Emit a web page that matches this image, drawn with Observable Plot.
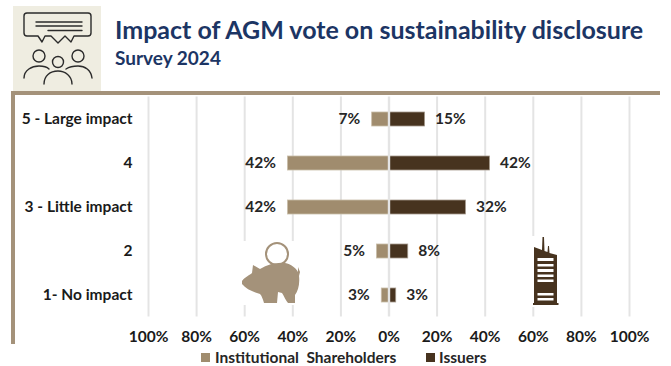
<!DOCTYPE html>
<html>
<head>
<meta charset="utf-8">
<script src="https://cdn.jsdelivr.net/npm/d3@7"></script>
<script src="https://cdn.jsdelivr.net/npm/@observablehq/plot@0.6"></script>
<style>
  html, body { margin: 0; padding: 0; background: #fff; }
  body { width: 671px; height: 366px; overflow: hidden; position: relative; font-family: Lato, "Open Sans", sans-serif; }
  #header { height: 91px; position: relative; }
  #title { position: absolute; left: 115px; top: 13.5px; font-size: 25px; font-weight: 700; color: #1c3564; white-space: nowrap; }
  #subtitle { position: absolute; left: 115px; top: 46px; font-size: 19px; font-weight: 700; color: #1c3564; white-space: nowrap; }
  #frame-top { position: absolute; left: 11px; top: 91px; width: 649px; height: 4px; background: #a4927a; }
  #frame-left { position: absolute; left: 11px; top: 91px; width: 4px; height: 253px; background: #a4927a; }
  #chart svg { display: block; }
  #legend { position: absolute; left: 0; top: 349px; width: 671px; height: 17px; font-size: 15.5px; font-weight: 700; color: #262626; line-height: 17px; }
  #legend span { position: absolute; top: 0; white-space: pre; }
  #legend i { position: absolute; top: 4px; width: 9px; height: 9px; }
  #icons { position: absolute; left: 0; top: 0; pointer-events: none; }
</style>
</head>
<body>
<div id="header">
  <div id="title">Impact of AGM vote on sustainability disclosure</div>
  <div id="subtitle">Survey 2024</div>
</div>
<div id="chart"></div>
<div id="frame-top"></div>
<div id="frame-left"></div>
<div id="legend"></div>

<!-- Decorative pictograms: audience panel, piggy bank, office tower -->
<svg id="icons" width="671" height="366">
  <rect x="13" y="6" width="88" height="85" fill="#efede1"/>
  <g fill="none" stroke="#2b2b2b" stroke-width="1.4" stroke-linecap="round" stroke-linejoin="round">
    <path d="M27 13H88Q91 13 91 16V33Q91 36 88 36H74L71 42L65 36L58 43L51 36L45 36L42 42L38 36H27Q24 36 24 33V16Q24 13 27 13Z"/>
    <path d="M36 22H82M36 26H82M48 30.500H82"/>
    <circle cx="39" cy="56" r="6"/>
    <circle cx="78" cy="56" r="6"/>
    <circle cx="58" cy="62" r="5.500"/>
    <path d="M24 78C24 70 32 66 39 66C43 66 47 67 49 69"/>
    <path d="M66 69C69 67 73 66 78 66C85 66 91 70 92 78"/>
    <path d="M44 84C44 76 50 71 58 71C65 71 72 76 72 84"/>
  </g>

  <rect x="240" y="241" width="62" height="64" fill="#fff"/>
  <circle cx="277" cy="254" r="11" fill="none" stroke="#a4927a" stroke-width="2"/>
  <path fill="#a4927a" d="M242 281C245 277 250 275 252 273L253 265L260 269C268 264 278 262 285 263C291 264 296 268 298 272L298 267L300 272L299 276C300 284 298 291 295 295L295 303L288 303C286 301 284 296 282 293L278 292L277 303L264 303C263 300 262 296 260 294C253 292 246 289 242 284Z"/>

  <rect x="531" y="236" width="29" height="71" fill="#fff"/>
  <path fill="#47331f" d="M534 247L542 250L542.500 237L544 237L544.500 251L547.500 252L548 246L549 246L549.500 253L557 255L557 303L558.500 303L558.500 305L533 305L533 303L534 303Z"/>
  <g fill="#fff">
    <rect x="537.500" y="258" width="16" height="3"/>
    <rect x="537.500" y="264" width="16" height="2.500"/>
    <rect x="537.500" y="269" width="16" height="3"/>
    <rect x="537.500" y="274.500" width="16" height="2.500"/>
    <rect x="537.500" y="279.500" width="16" height="2.500"/>
    <rect x="537.500" y="293" width="16" height="2.500"/>
    <rect x="537.500" y="298" width="16" height="2.500"/>
  </g>
</svg>

<script>
// Survey responses per answer, in percent of each group
const categories = ["5 - Large impact", "4", "3 - Little impact", "2", "1- No impact"];
const shareholders = [7, 42, 42, 5, 3];
const issuers = [15, 42, 32, 8, 3];
const axisTicks = [-100, -80, -60, -40, -20, 0, 20, 40, 60, 80, 100];

const shareholderColor = "#a08c6e";
const issuerColor = "#47331f";
const inkColor = "#262626";
const seriesNames = ["Institutional  Shareholders", "Issuers"];

const rows = categories.map((category, i) => ({
  category,
  shareholders: shareholders[i],
  issuers: issuers[i]
}));

const chart = Plot.plot({
  width: 671,
  height: 258,
  marginTop: 5.5,
  marginBottom: 32.5,
  marginLeft: 148,
  marginRight: 42,
  style: { fontFamily: "Lato, 'Open Sans', sans-serif", background: "transparent" },
  x: { domain: [-100, 100], axis: null },
  y: { domain: categories, axis: null, padding: 0 },
  marks: [
    Plot.ruleX(axisTicks.filter(d => d !== 0), { x: d => d, stroke: "#e4e4e4", strokeWidth: 2 }),
    Plot.rectX(rows, {
      x1: 0,
      x2: d => -d.shareholders,
      y: "category",
      insetTop: 15,
      insetBottom: 15,
      fill: shareholderColor,
      stroke: "#c9bda9",
      strokeWidth: 0.8
    }),
    Plot.rectX(rows, {
      x1: 0,
      x2: "issuers",
      y: "category",
      insetTop: 15,
      insetBottom: 15,
      fill: issuerColor,
      stroke: "#a59a8d",
      strokeWidth: 0.8
    }),
    Plot.ruleX([0], { stroke: "#e4e4e4", strokeWidth: 2.4 }),
    Plot.text(rows, {
      x: d => -d.shareholders,
      y: "category",
      text: d => `${d.shareholders}%`,
      textAnchor: "end",
      dx: -12,
      fontSize: 15.5,
      fontWeight: 700,
      fill: inkColor
    }),
    Plot.text(rows, {
      x: "issuers",
      y: "category",
      text: d => `${d.issuers}%`,
      textAnchor: "start",
      dx: 10,
      fontSize: 15.5,
      fontWeight: 700,
      fill: inkColor
    }),
    Plot.axisY(categories, {
      anchor: "left",
      tickSize: 0,
      tickPadding: 16,
      label: null,
      fontSize: 15.5,
      fontWeight: 700,
      fill: "#1a1a1a"
    }),
    Plot.axisX(axisTicks, {
      anchor: "bottom",
      tickSize: 0,
      tickPadding: 14,
      label: null,
      tickFormat: d => `${Math.abs(d)}%`,
      fontSize: 15.5,
      fontWeight: 700,
      fill: "#1a1a1a"
    })
  ]
});
document.getElementById("chart").appendChild(chart);

// Legend below the chart
const legend = document.getElementById("legend");
[[201, 215, seriesNames[0], shareholderColor], [426, 439, seriesNames[1], issuerColor]].forEach(([sx, tx, name, color]) => {
  const swatch = document.createElement("i");
  swatch.style.left = sx + "px";
  swatch.style.background = color;
  const label = document.createElement("span");
  label.style.left = tx + "px";
  label.textContent = name;
  legend.append(swatch, label);
});
</script>
</body>
</html>
